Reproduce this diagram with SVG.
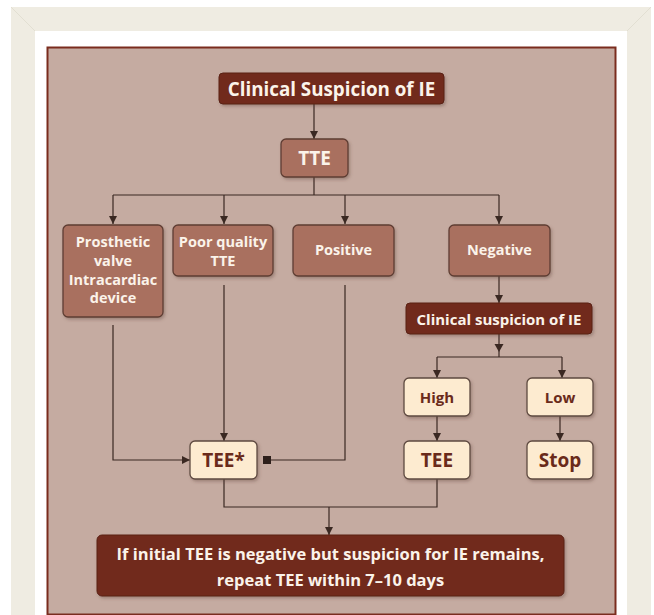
<svg xmlns="http://www.w3.org/2000/svg" width="654" height="615" viewBox="0 0 654 615">
<defs>
<filter id="sh" x="-20%" y="-20%" width="140%" height="150%">
<feDropShadow dx="1.5" dy="2" stdDeviation="1.5" flood-color="#5a3a30" flood-opacity="0.35"/>
</filter>
<marker id="ah" viewBox="0 0 10 10" refX="10" refY="5" markerWidth="8" markerHeight="8" markerUnits="userSpaceOnUse" orient="auto">
<path d="M0,0 L10,5 L0,10 Z" fill="#3a2822"/>
</marker>
<style>
.dark{fill:#712b1c;stroke:#5a2115;stroke-width:1;}
.mid{fill:#a9705f;stroke:#5e3d33;stroke-width:1.3;}
.light{fill:#fdebd0;stroke:#5e4a40;stroke-width:1.3;}
.tw{font-family:"Open Sans",Lato,sans-serif;font-weight:bold;fill:#fbf3ea;text-anchor:middle;}
.tb{font-family:"Open Sans",Lato,sans-serif;font-weight:bold;fill:#6a2a1a;text-anchor:middle;}
.ln{fill:none;stroke:#3a2822;stroke-width:1.2;}
.tri{fill:#3a2822;}
</style>
</defs>
<rect x="0" y="0" width="654" height="615" fill="#ffffff"/>
<rect x="11" y="7" width="640" height="608" fill="#efece2"/>
<rect x="35" y="31" width="592" height="584" fill="#ffffff"/>
<line x1="11" y1="7" x2="35" y2="31" stroke="#e2dfd2" stroke-width="1"/>
<line x1="651" y1="7" x2="627" y2="31" stroke="#e2dfd2" stroke-width="1"/>
<rect x="47.5" y="47.5" width="568" height="567" fill="#c5aba1" stroke="#7a2c1e" stroke-width="2"/>

<g id="connectors">
<line class="ln" x1="314" y1="104" x2="314" y2="139" marker-end="url(#ah)"/>
<polyline class="ln" points="314,177 314,195"/>
<polyline class="ln" points="113,195 499,195"/>
<line class="ln" x1="113" y1="195" x2="113" y2="224" marker-end="url(#ah)"/>
<line class="ln" x1="224" y1="195" x2="224" y2="224" marker-end="url(#ah)"/>
<line class="ln" x1="345" y1="195" x2="345" y2="224" marker-end="url(#ah)"/>
<line class="ln" x1="499" y1="195" x2="499" y2="224" marker-end="url(#ah)"/>
<line class="ln" x1="499" y1="276" x2="499" y2="303" marker-end="url(#ah)"/>
<line class="ln" x1="499" y1="334" x2="499" y2="357"/>
<path class="tri" d="M494.5,344 L503.5,344 L499,352 Z"/>
<polyline class="ln" points="437,357 562,357"/>
<line class="ln" x1="437" y1="357" x2="437" y2="378" marker-end="url(#ah)"/>
<line class="ln" x1="562" y1="357" x2="562" y2="378" marker-end="url(#ah)"/>
<line class="ln" x1="437" y1="416" x2="437" y2="441" marker-end="url(#ah)"/>
<line class="ln" x1="560" y1="416" x2="560" y2="441" marker-end="url(#ah)"/>
<line class="ln" x1="224" y1="285" x2="224" y2="441" marker-end="url(#ah)"/>
<polyline class="ln" points="113,325 113,460 190,460" marker-end="url(#ah)"/>
<polyline class="ln" points="345,285 345,460 270,460"/>
<rect x="263" y="456" width="8" height="8" fill="#2e201c"/>
<polyline class="ln" points="224,479 224,507 437,507 437,479"/>
<line class="ln" x1="329" y1="507" x2="329" y2="535" marker-end="url(#ah)"/>
</g>

<g id="n-clinical">
<rect class="dark" x="219" y="73" width="225" height="31" rx="4" filter="url(#sh)"/>
<text class="tw" x="331.5" y="95.5" font-size="18.8">Clinical Suspicion of IE</text>
</g>
<g id="n-tte">
<rect class="mid" x="281" y="139" width="67" height="38" rx="5" filter="url(#sh)"/>
<text class="tw" x="314.5" y="165" font-size="19">TTE</text>
</g>
<g id="n-prosthetic">
<rect class="mid" x="63" y="225" width="100" height="92" rx="5" filter="url(#sh)"/>
<text class="tw" x="113" y="247" font-size="14.5">Prosthetic</text>
<text class="tw" x="113" y="266" font-size="14.5">valve</text>
<text class="tw" x="113" y="285" font-size="14.5">Intracardiac</text>
<text class="tw" x="113" y="303" font-size="14.5">device</text>
</g>
<g id="n-poor">
<rect class="mid" x="173" y="225" width="100" height="51" rx="5" filter="url(#sh)"/>
<text class="tw" x="223" y="247" font-size="14.5">Poor quality</text>
<text class="tw" x="223" y="266" font-size="14.5">TTE</text>
</g>
<g id="n-positive">
<rect class="mid" x="293" y="225" width="101" height="51" rx="5" filter="url(#sh)"/>
<text class="tw" x="343.5" y="255" font-size="14.5">Positive</text>
</g>
<g id="n-negative">
<rect class="mid" x="449" y="225" width="101" height="51" rx="5" filter="url(#sh)"/>
<text class="tw" x="499.5" y="255" font-size="14.5">Negative</text>
</g>
<g id="n-clinical2">
<rect class="dark" x="406" y="303" width="186" height="31" rx="4" filter="url(#sh)"/>
<text class="tw" x="499" y="325" font-size="15">Clinical suspicion of IE</text>
</g>
<g id="n-high">
<rect class="light" x="404" y="378" width="66" height="38" rx="5" filter="url(#sh)"/>
<text class="tb" x="437" y="402.5" font-size="15">High</text>
</g>
<g id="n-low">
<rect class="light" x="527" y="378" width="66" height="38" rx="5" filter="url(#sh)"/>
<text class="tb" x="560" y="402.5" font-size="15">Low</text>
</g>
<g id="n-tee-star">
<rect class="light" x="190" y="441" width="67" height="38" rx="5" filter="url(#sh)"/>
<text class="tb" x="223.5" y="467" font-size="19">TEE*</text>
</g>
<g id="n-tee">
<rect class="light" x="404" y="441" width="66" height="38" rx="5" filter="url(#sh)"/>
<text class="tb" x="437" y="467" font-size="19">TEE</text>
</g>
<g id="n-stop">
<rect class="light" x="527" y="441" width="66" height="38" rx="5" filter="url(#sh)"/>
<text class="tb" x="560" y="467" font-size="19">Stop</text>
</g>
<g id="n-repeat">
<rect class="dark" x="97" y="535" width="467" height="61" rx="5" filter="url(#sh)"/>
<text class="tw" x="330.5" y="560" font-size="16.5">If initial TEE is negative but suspicion for IE remains,</text>
<text class="tw" x="330.5" y="585.5" font-size="16.5">repeat TEE within 7–10 days</text>
</g>
</svg>
